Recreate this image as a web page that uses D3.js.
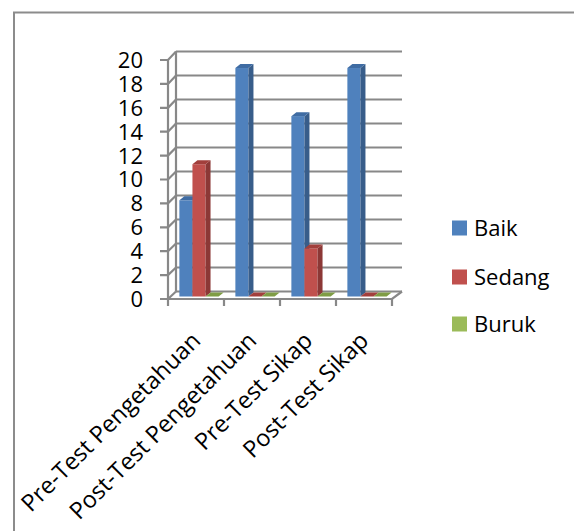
<!DOCTYPE html>
<html>
<head>
<meta charset="utf-8">
<script src="https://cdn.jsdelivr.net/npm/d3@7"></script>
<style>
  body { margin: 0; background: #fff; }
  svg { display: block; font-family: "Open Sans", sans-serif; }
</style>
</head>
<body>
<svg width="574" height="531"></svg>
<script>
const categories = ["Pre-Test Pengetahuan", "Post-Test Pengetahuan", "Pre-Test Sikap", "Post-Test Sikap"];
const seriesNames = ["Baik", "Sedang", "Buruk"];
const baik = [8, 19, 15, 19];
const sedang = [11, 0, 4, 0];
const buruk = [0, 0, 0, 0];
const yTicks = [0, 2, 4, 6, 8, 10, 12, 14, 16, 18, 20];

const seriesValues = [baik, sedang, buruk];
const colors = {
    front: ["#4f81bd", "#c0504d", "#9bbb59"],
    side: ["#385d8a", "#8c3836", "#71893f"],
    top: ["#3f6ca3", "#a23f3c", "#7f9d45"]
};

const svg = d3.select("svg");
const gridColor = "#888888";

// outer border (only top and left visible)
svg.append("path")
    .attr("d", "M14,531 L14,12.5 L574,12.5")
    .attr("fill", "none")
    .attr("stroke", "#8c8c8c")
    .attr("stroke-width", 2);

const frontLeft = 168, frontRight = 392;
const depthX = 8, depthY = -8;

const yFront = d3.scaleLinear().domain([0, 20]).range([299, 60]);
const yBack = d3.scaleLinear().domain([0, 20]).range([291.5, 51.5]);
const yBar = d3.scaleLinear().domain([0, 20]).range([296.5, 56]);

const scX = d3.scaleBand().domain(categories).range([frontLeft, frontRight]);
const inner = d3.scaleBand().domain(seriesNames).range([0, scX.bandwidth()]).paddingOuter(0.64);

// back wall gridlines
yTicks.forEach(t => {
    svg.append("line")
        .attr("x1", frontLeft + depthX).attr("x2", 402)
        .attr("y1", yBack(t)).attr("y2", yBack(t))
        .attr("stroke", gridColor).attr("stroke-width", 2.2);
    // tick + diagonal on side wall
    svg.append("path")
        .attr("d", `M${frontLeft - 8},${yFront(t)} L${frontLeft},${yFront(t)} L${frontLeft + depthX},${yBack(t)}`)
        .attr("fill", "none")
        .attr("stroke", gridColor).attr("stroke-width", 2.2);
});

// vertical axis lines
svg.append("line")
    .attr("x1", frontLeft).attr("x2", frontLeft)
    .attr("y1", yFront(20)).attr("y2", yFront(0))
    .attr("stroke", gridColor).attr("stroke-width", 2.2);
svg.append("line")
    .attr("x1", frontLeft + depthX).attr("x2", frontLeft + depthX)
    .attr("y1", yBack(20)).attr("y2", yBack(0))
    .attr("stroke", gridColor).attr("stroke-width", 2.2);

// floor front edge and right edge
svg.append("path")
    .attr("d", `M${frontLeft},${yFront(0)} L${frontRight},${yFront(0)} L${frontRight + 10},${yBack(0)}`)
    .attr("fill", "none")
    .attr("stroke", gridColor).attr("stroke-width", 2.2);

// category ticks
const tickXs = categories.map(c => scX(c)).concat([frontRight]);
tickXs.forEach(x => {
    svg.append("line")
        .attr("x1", x).attr("x2", x)
        .attr("y1", yFront(0)).attr("y2", yFront(0) + 7)
        .attr("stroke", gridColor).attr("stroke-width", 2.2);
});

// y labels
svg.append("g").selectAll("text")
    .data(yTicks)
    .enter()
    .append("text")
    .attr("x", 143)
    .attr("y", d => yFront(d))
    .attr("dy", "0.36em")
    .attr("text-anchor", "end")
    .style("font-size", "22px")
    .attr("fill", "#000")
    .text(d => d);

// 3D bars
const bx = 5, by = -4;
categories.forEach((cat, ci) => {
    seriesNames.forEach((s, si) => {
        const v = seriesValues[si][ci];
        const x = scX(cat) + inner(s) + 3;
        const w = inner.bandwidth();
        const y0 = yBar(0);
        const y1 = yBar(v);
        const g = svg.append("g");
        if (v > 0) {
            g.append("rect")
                .attr("x", x).attr("y", y1)
                .attr("width", w).attr("height", y0 - y1)
                .attr("fill", colors.front[si]);
            g.append("path")
                .attr("d", `M${x + w},${y1} L${x + w + bx},${y1 + by} L${x + w + bx},${y0 + by} L${x + w},${y0} Z`)
                .attr("fill", colors.side[si]);
        }
        g.append("path")
            .attr("d", `M${x},${y1} L${x + bx},${y1 + by} L${x + w + bx},${y1 + by} L${x + w},${y1} Z`)
            .attr("fill", colors.top[si]);
    });
});

// category labels
svg.append("g").selectAll("text")
    .data(categories)
    .enter()
    .append("text")
    .attr("transform", d => `translate(${scX(d) + scX.bandwidth() / 2 + 6}, 342) rotate(-45)`)
    .attr("text-anchor", "end")
    .style("font-size", "23.5px")
    .attr("fill", "#000")
    .text(d => d);

// legend
const legendY = [228, 277, 324];
seriesNames.forEach((s, i) => {
    svg.append("rect")
        .attr("x", 452).attr("y", legendY[i] - 7.5)
        .attr("width", 15).attr("height", 15)
        .attr("fill", colors.front[i]);
    svg.append("text")
        .attr("x", 474).attr("y", legendY[i])
        .attr("dy", "0.36em")
        .style("font-size", "22px")
        .attr("fill", "#000")
        .text(s);
});
</script>
</body>
</html>
